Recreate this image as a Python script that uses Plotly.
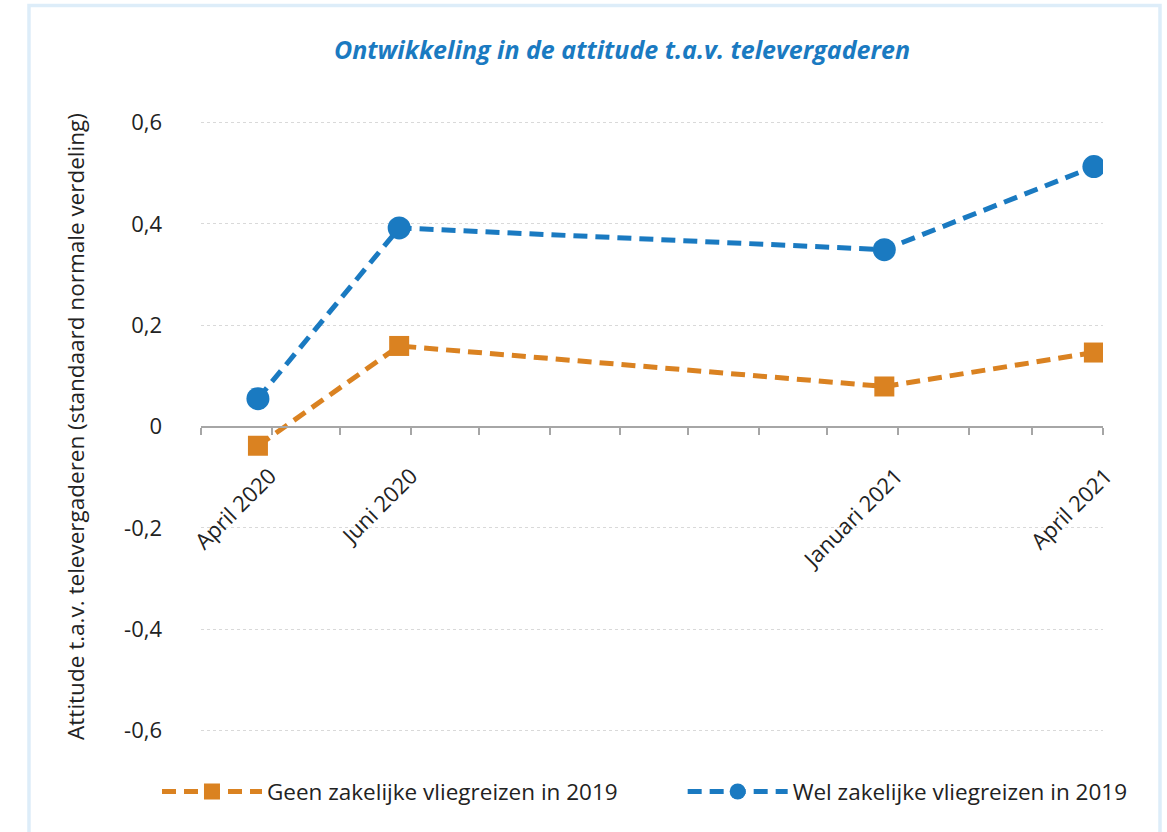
import plotly.graph_objects as go

# Data
survey_dates = ["2020-03-26", "2020-05-27", "2020-12-26", "2021-03-28"]
period_labels = ["April 2020", "Juni 2020", "Januari 2021", "April 2021"]
geen_zakelijk = [-0.038, 0.159, 0.079, 0.146]
wel_zakelijk = [0.055, 0.392, 0.349, 0.513]
series_names = ["Geen zakelijke vliegreizen in 2019", "Wel zakelijke vliegreizen in 2019"]
y_tickvals = [-0.6, -0.4, -0.2, 0, 0.2, 0.4, 0.6]
y_ticktext = ["-0,6", "-0,4", "-0,2", "0", "0,2", "0,4", "0,6"]

ORANGE = "#DA8221"
BLUE = "#1A7AC1"
FONT = "Open Sans"
TXT = "#222222"

fig = go.Figure()
fig.add_trace(go.Scatter(
    x=survey_dates, y=geen_zakelijk, name=series_names[0], mode="lines+markers",
    line=dict(color=ORANGE, width=5, dash="14px,8px"),
    marker=dict(symbol="square", size=20, color=ORANGE),
    legend="legend",
))
fig.add_trace(go.Scatter(
    x=survey_dates, y=wel_zakelijk, name=series_names[1], mode="lines+markers",
    line=dict(color=BLUE, width=5, dash="14px,8px"),
    marker=dict(symbol="circle", size=23, color=BLUE),
    legend="legend2",
))

legend_style = dict(
    orientation="h", xanchor="left", y=-0.096, yanchor="middle",
    font=dict(family=FONT, size=22.5, color=TXT),
    itemwidth=100, bgcolor="rgba(0,0,0,0)",
)

fig.update_layout(
    width=1167, height=832,
    margin=dict(l=201, r=64, t=120, b=99),
    paper_bgcolor="white", plot_bgcolor="white",
    font=dict(family=FONT, size=22, color=TXT),
    title=dict(
        text="Ontwikkeling in de attitude t.a.v. televergaderen",
        font=dict(family=FONT, size=25, color=BLUE, weight="bold", style="italic"),
        x=622 / 1167, xanchor="center", xref="container",
        y=1 - 50 / 832, yanchor="middle", yref="container",
    ),
    showlegend=True,
    legend=dict(x=-0.0488, **legend_style),
    legend2=dict(x=0.534, **legend_style),
    shapes=[dict(
        type="rect", xref="paper", yref="paper",
        x0=-0.1907, x1=1.0632, y0=-0.25, y1=1.1868,
        line=dict(color="#DDEDF9", width=3.5), fillcolor="rgba(0,0,0,0)", layer="below",
    )],
)

fig.update_xaxes(
    type="date",
    range=["2020-03-01", "2021-04-01"],
    anchor="free", position=0.5,
    showline=True, linecolor="#A6A6A6", linewidth=2,
    showgrid=False, zeroline=False,
    tickvals=survey_dates, ticktext=period_labels,
    ticks="", tickangle=-45, ticklabelstandoff=27, ticklabelshift=12,
    tickfont=dict(family=FONT, size=22, color=TXT),
    minor=dict(ticks="outside", ticklen=7, tickwidth=1.5, tickcolor="#A6A6A6",
               dtick="M1", tick0="2020-03-01", showgrid=False),
    automargin=False,
)
fig.update_yaxes(
    range=[-0.605, 0.605],
    tickvals=y_tickvals, ticktext=y_ticktext,
    showline=False, zeroline=False,
    showgrid=True, gridcolor="#D9D9D9", gridwidth=1, griddash="dot",
    ticks="", ticklabelstandoff=38,
    tickfont=dict(family=FONT, size=22, color=TXT),
    title=dict(text="Attitude t.a.v. televergaderen (standaard normale verdeling)",
               font=dict(family=FONT, size=22.5, color=TXT), standoff=33),
    automargin=False,
)

fig.write_html("out.html", config={"displayModeBar": False},
               post_script="document.body.style.margin='0px';")
